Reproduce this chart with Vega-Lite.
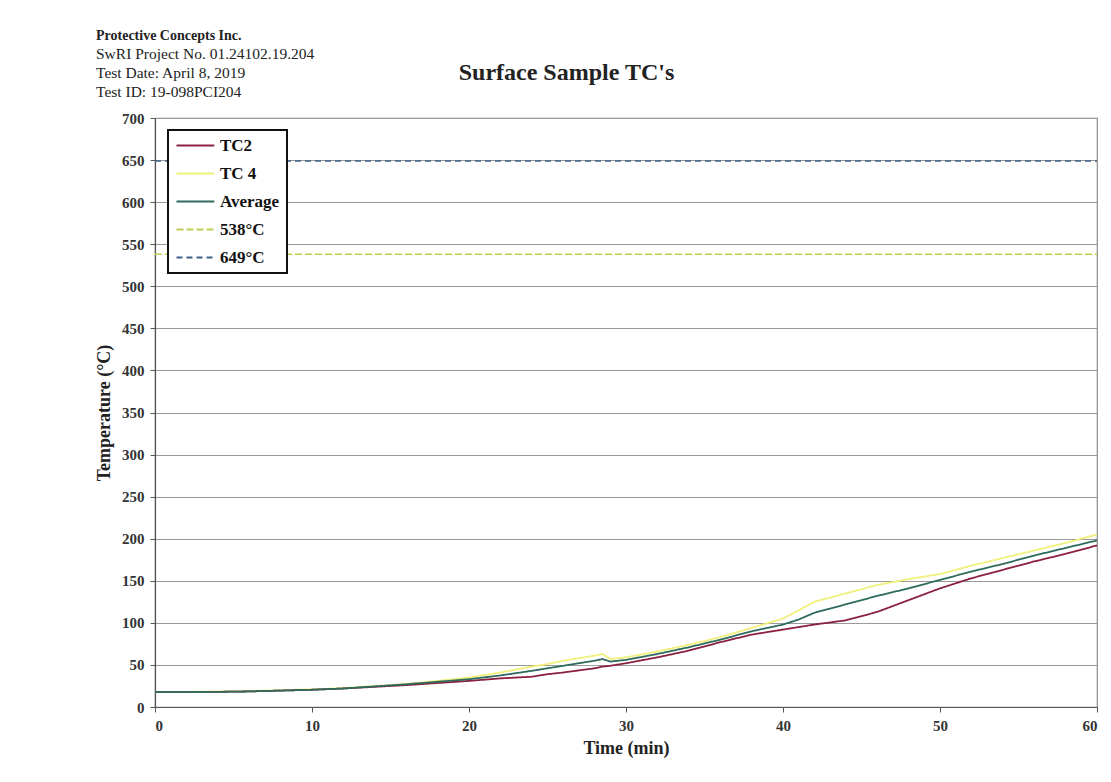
{
  "$schema": "https://vega.github.io/schema/vega-lite/v6.json",
  "width": 942,
  "height": 589,
  "autosize": "none",
  "padding": {"left": 155, "top": 118, "right": 14, "bottom": 75},
  "background": "white",
  "title": {
    "text": "Protective Concepts Inc.",
    "subtitle": ["SwRI Project No. 01.24102.19.204", "Test Date: April 8, 2019", "Test ID: 19-098PCI204"],
    "anchor": "start",
    "frame": "group",
    "dx": -59,
    "offset": -40,
    "font": "Liberation Serif",
    "fontSize": 14,
    "fontWeight": "bold",
    "color": "#222222",
    "subtitleFont": "Liberation Serif",
    "subtitleFontSize": 15.5,
    "subtitleFontWeight": "normal",
    "subtitleColor": "#222222",
    "subtitleLineHeight": 19,
    "subtitlePadding": 4
  },
  "datasets": {
    "series": [
      {"t": 0, "s": "TC 4", "v": 18}, {"t": 2, "s": "TC 4", "v": 18}, {"t": 4, "s": "TC 4", "v": 18.5}, {"t": 6, "s": "TC 4", "v": 19}, {"t": 8, "s": "TC 4", "v": 20}, {"t": 10, "s": "TC 4", "v": 21}, {"t": 12, "s": "TC 4", "v": 22.5}, {"t": 14, "s": "TC 4", "v": 25}, {"t": 16, "s": "TC 4", "v": 27.5}, {"t": 18, "s": "TC 4", "v": 31}, {"t": 20, "s": "TC 4", "v": 35}, {"t": 22, "s": "TC 4", "v": 41}, {"t": 24, "s": "TC 4", "v": 48}, {"t": 25, "s": "TC 4", "v": 51}, {"t": 26, "s": "TC 4", "v": 55}, {"t": 28, "s": "TC 4", "v": 61}, {"t": 28.5, "s": "TC 4", "v": 63}, {"t": 29, "s": "TC 4", "v": 57}, {"t": 30, "s": "TC 4", "v": 59}, {"t": 32, "s": "TC 4", "v": 66}, {"t": 34, "s": "TC 4", "v": 74}, {"t": 36, "s": "TC 4", "v": 83}, {"t": 38, "s": "TC 4", "v": 94}, {"t": 40, "s": "TC 4", "v": 105}, {"t": 41, "s": "TC 4", "v": 115}, {"t": 42, "s": "TC 4", "v": 125}, {"t": 44, "s": "TC 4", "v": 135}, {"t": 45, "s": "TC 4", "v": 140}, {"t": 46, "s": "TC 4", "v": 145}, {"t": 48, "s": "TC 4", "v": 152}, {"t": 50, "s": "TC 4", "v": 158}, {"t": 52, "s": "TC 4", "v": 168}, {"t": 54, "s": "TC 4", "v": 177}, {"t": 56, "s": "TC 4", "v": 186}, {"t": 58, "s": "TC 4", "v": 195}, {"t": 60, "s": "TC 4", "v": 205},
      {"t": 0, "s": "TC2", "v": 18}, {"t": 2, "s": "TC2", "v": 18}, {"t": 4, "s": "TC2", "v": 18}, {"t": 6, "s": "TC2", "v": 18.5}, {"t": 8, "s": "TC2", "v": 19.5}, {"t": 10, "s": "TC2", "v": 20.5}, {"t": 12, "s": "TC2", "v": 22}, {"t": 14, "s": "TC2", "v": 24}, {"t": 16, "s": "TC2", "v": 26}, {"t": 18, "s": "TC2", "v": 28.5}, {"t": 20, "s": "TC2", "v": 31}, {"t": 22, "s": "TC2", "v": 34}, {"t": 24, "s": "TC2", "v": 36}, {"t": 25, "s": "TC2", "v": 39}, {"t": 26, "s": "TC2", "v": 41}, {"t": 28, "s": "TC2", "v": 46}, {"t": 28.5, "s": "TC2", "v": 48}, {"t": 29, "s": "TC2", "v": 49}, {"t": 30, "s": "TC2", "v": 52}, {"t": 32, "s": "TC2", "v": 59}, {"t": 34, "s": "TC2", "v": 67}, {"t": 36, "s": "TC2", "v": 77}, {"t": 38, "s": "TC2", "v": 86}, {"t": 40, "s": "TC2", "v": 92}, {"t": 41, "s": "TC2", "v": 95}, {"t": 42, "s": "TC2", "v": 98}, {"t": 44, "s": "TC2", "v": 103}, {"t": 45, "s": "TC2", "v": 108}, {"t": 46, "s": "TC2", "v": 113}, {"t": 48, "s": "TC2", "v": 127}, {"t": 50, "s": "TC2", "v": 141}, {"t": 52, "s": "TC2", "v": 153}, {"t": 54, "s": "TC2", "v": 163}, {"t": 56, "s": "TC2", "v": 173}, {"t": 58, "s": "TC2", "v": 182}, {"t": 60, "s": "TC2", "v": 192},
      {"t": 0, "s": "Average", "v": 18}, {"t": 2, "s": "Average", "v": 18}, {"t": 4, "s": "Average", "v": 18}, {"t": 6, "s": "Average", "v": 18.5}, {"t": 8, "s": "Average", "v": 19.5}, {"t": 10, "s": "Average", "v": 20.5}, {"t": 12, "s": "Average", "v": 22}, {"t": 14, "s": "Average", "v": 24.5}, {"t": 16, "s": "Average", "v": 27}, {"t": 18, "s": "Average", "v": 30}, {"t": 20, "s": "Average", "v": 33}, {"t": 22, "s": "Average", "v": 37.5}, {"t": 24, "s": "Average", "v": 43}, {"t": 25, "s": "Average", "v": 46}, {"t": 26, "s": "Average", "v": 49}, {"t": 28, "s": "Average", "v": 55}, {"t": 28.5, "s": "Average", "v": 57}, {"t": 29, "s": "Average", "v": 54}, {"t": 30, "s": "Average", "v": 56}, {"t": 32, "s": "Average", "v": 63}, {"t": 34, "s": "Average", "v": 71}, {"t": 36, "s": "Average", "v": 80}, {"t": 38, "s": "Average", "v": 90}, {"t": 40, "s": "Average", "v": 98}, {"t": 41, "s": "Average", "v": 104}, {"t": 42, "s": "Average", "v": 112}, {"t": 44, "s": "Average", "v": 122}, {"t": 45, "s": "Average", "v": 127}, {"t": 46, "s": "Average", "v": 132}, {"t": 48, "s": "Average", "v": 141}, {"t": 50, "s": "Average", "v": 151}, {"t": 52, "s": "Average", "v": 161}, {"t": 54, "s": "Average", "v": 170}, {"t": 56, "s": "Average", "v": 180}, {"t": 58, "s": "Average", "v": 189}, {"t": 60, "s": "Average", "v": 198}
    ],
    "refs": [
      {"t": 0, "s": "538°C", "v": 538}, {"t": 60, "s": "538°C", "v": 538},
      {"t": 0, "s": "649°C", "v": 649}, {"t": 60, "s": "649°C", "v": 649}
    ]
  },
  "layer": [
    {
      "data": {"name": "series"},
      "mark": {"type": "line", "strokeWidth": 1.8, "clip": true},
      "encoding": {
        "x": {
          "field": "t", "type": "quantitative",
          "scale": {"domain": [0, 60], "nice": false},
          "axis": {"orient": "bottom", "title": "Time (min)", "values": [0, 10, 20, 30, 40, 50, 60], "titlePadding": 6}
        },
        "y": {
          "field": "v", "type": "quantitative",
          "scale": {"domain": [0, 700], "nice": false},
          "axis": {"title": "Temperature (°C)", "values": [0, 50, 100, 150, 200, 250, 300, 350, 400, 450, 500, 550, 600, 650, 700], "titlePadding": 8}
        },
        "color": {"field": "s", "type": "nominal", "title": null,
          "scale": {"domain": ["TC2", "TC 4", "Average", "538°C", "649°C"], "range": ["#8b2040", "#f0f07a", "#2e6b5e", "#c2cc52", "#3c5f86"]}},
        "strokeDash": {"field": "s", "type": "nominal", "title": null,
          "scale": {"domain": ["TC2", "TC 4", "Average", "538°C", "649°C"], "range": [[1, 0], [1, 0], [1, 0], [7, 3], [6, 4]]}}
      }
    },
    {
      "data": {"name": "refs"},
      "mark": {"type": "line", "strokeWidth": 1.5},
      "encoding": {
        "x": {
          "field": "t", "type": "quantitative",
          "axis": {"orient": "top", "title": "Surface Sample TC's", "labels": false, "ticks": false, "domain": false, "grid": false,
            "titleX": 411, "titleY": -46, "titleBaseline": "middle", "titleAlign": "center", "titleFontSize": 24}
        },
        "y": {"field": "v", "type": "quantitative"},
        "color": {"field": "s", "type": "nominal", "title": null},
        "strokeDash": {"field": "s", "type": "nominal", "title": null}
      }
    }
  ],
  "config": {
    "font": "Liberation Serif",
    "view": {"stroke": "#8a8a8a", "strokeWidth": 1.2},
    "axis": {
      "labelFont": "Liberation Serif", "labelFontSize": 15, "labelFontWeight": "bold", "labelColor": "#333333",
      "titleFont": "Liberation Serif", "titleFontSize": 18, "titleFontWeight": "bold", "titleColor": "#222222",
      "gridColor": "#9a9a9a", "gridWidth": 1, "gridOpacity": 1,
      "domainColor": "#555555", "domainWidth": 1.2,
      "tickColor": "#555555", "tickSize": 5, "labelPadding": 6
    },
    "axisX": {"grid": false},
    "axisY": {"grid": true},
    "legend": {
      "orient": "none", "legendX": 13, "legendY": 12,
      "fillColor": "white", "strokeColor": "#111111", "strokeWidth": 2,
      "padding": 7,
      "symbolType": "M-1,0H4.4", "symbolSize": 196, "symbolStrokeWidth": 2,
      "labelFont": "Liberation Serif", "labelFontSize": 17, "labelFontWeight": "bold", "labelColor": "#111111",
      "rowPadding": 10, "labelOffset": 28
    }
  }
}
